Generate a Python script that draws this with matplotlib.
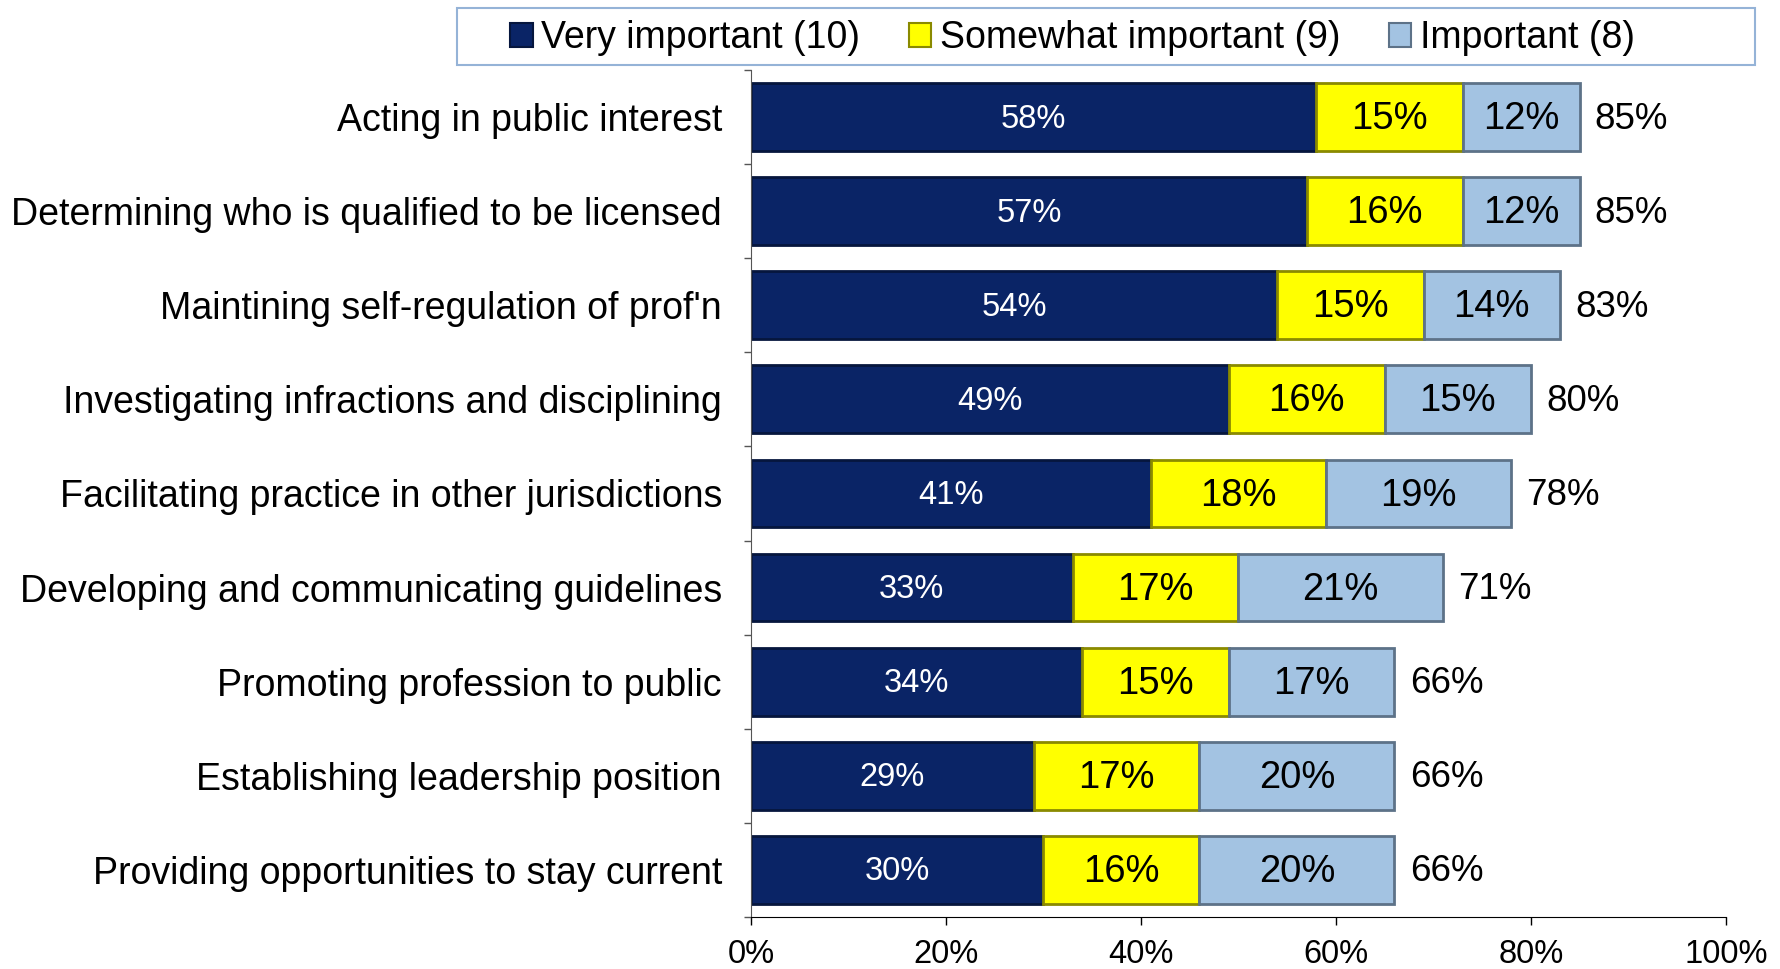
import matplotlib
matplotlib.use("Agg")
import matplotlib.pyplot as plt
from matplotlib.ticker import FixedLocator, PercentFormatter
from matplotlib.patches import Patch, Rectangle

plt.rcParams['font.family'] = ['Liberation Sans', 'DejaVu Sans']

categories = [
    "Acting in public interest",
    "Determining who is qualified to be licensed",
    "Maintining self-regulation of prof'n",
    "Investigating infractions and disciplining",
    "Facilitating practice in other jurisdictions",
    "Developing and communicating guidelines",
    "Promoting profession to public",
    "Establishing leadership position",
    "Providing opportunities to stay current",
]
very_important = [58, 57, 54, 49, 41, 33, 34, 29, 30]
somewhat_important = [15, 16, 15, 16, 18, 17, 15, 17, 16]
important = [12, 12, 14, 15, 19, 21, 17, 20, 20]
totals = [85, 85, 83, 80, 78, 71, 66, 66, 66]
series_names = ["Very important (10)", "Somewhat important (9)", "Important (8)"]
x_ticks = [0, 20, 40, 60, 80, 100]

colors = ["#0a2466", "#ffff00", "#a3c3e2"]
edges = ["#06163d", "#8a8a00", "#5d7288"]
text_colors = ["white", "black", "black"]
text_sizes = [23.5, 27.5, 27.5]

fig = plt.figure(figsize=(17.81, 9.69), dpi=100)
ax = fig.add_axes([0.4217, 0.0537, 0.969 - 0.4217, 0.9278 - 0.0537])

y = list(range(len(categories)))
left = [0] * len(categories)
for vals, col, ec, tc, ts in zip([very_important, somewhat_important, important],
                                 colors, edges, text_colors, text_sizes):
    bars = ax.barh(y, vals, left=left, height=0.72, color=col, edgecolor=ec,
                   linewidth=2.0)
    for b, v in zip(bars, vals):
        ax.annotate(f"{v}%", xy=(b.get_x() + b.get_width() / 2, b.get_y() + b.get_height() / 2),
                    xytext=(0, -1.5), textcoords='offset points',
                    ha='center', va='center', color=tc, fontsize=ts)
    left = [l + v for l, v in zip(left, vals)]

for yi, (l, t) in enumerate(zip(left, totals)):
    ax.annotate(f"{t}%", xy=(l, yi), xytext=(11, -1.5), textcoords='offset points',
                va='center', ha='left', fontsize=26.5, color='black')

ax.set_ylim(len(categories) - 0.5, -0.5)
ax.set_xlim(0, 100)
ax.set_yticks(y)
ax.set_yticklabels(categories, fontsize=27)
ax.tick_params(axis='y', which='major', length=0, pad=21)
ax.yaxis.set_minor_locator(FixedLocator([i + 0.5 for i in range(-1, len(categories))]))
ax.tick_params(axis='y', which='minor', length=5, width=1, color='#555555')
ax.set_xticks(x_ticks)
ax.xaxis.set_major_formatter(PercentFormatter(decimals=0))
ax.tick_params(axis='x', labelsize=23.5, length=6, width=1, pad=10)

for s in ['top', 'right']:
    ax.spines[s].set_visible(False)
ax.spines['left'].set_color('#555555')
ax.spines['bottom'].set_color('black')

# legend frame (drawn separately, as in the reference it is wider than its content)
fig.patches.append(Rectangle((0.2566, 0.933), 0.9855 - 0.2566, 0.059,
                             transform=fig.transFigure, facecolor='white',
                             edgecolor='#95b3d7', linewidth=1.5))
handles = [Patch(facecolor=c, edgecolor=e, linewidth=1.5) for c, e in zip(colors, edges)]
leg = fig.legend(handles, series_names, ncol=3, loc='center left',
                 bbox_to_anchor=(0.2865, 0.9605), fontsize=27.0, frameon=False,
                 handlelength=0.6, handleheight=0.6, handletextpad=0.22,
                 columnspacing=1.3, borderpad=0.0, borderaxespad=0.0)

fig.savefig("out.png", dpi=100)
